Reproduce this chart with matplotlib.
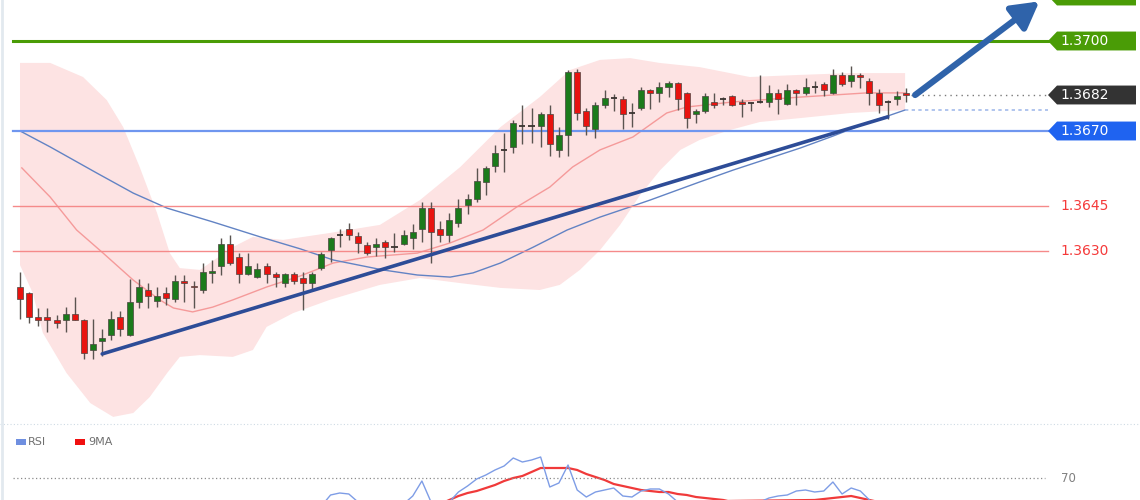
import matplotlib
matplotlib.use("Agg")
import matplotlib.pyplot as plt
import numpy as np
from matplotlib.patches import Polygon, Rectangle
from matplotlib.transforms import blended_transform_factory

# ---------------- data ----------------
opens = [1.3618, 1.3616, 1.3608, 1.3608, 1.3607, 1.3607, 1.3609, 1.3607, 1.3597, 1.3600,
         1.3602, 1.3608, 1.3602, 1.3613, 1.3617, 1.36133, 1.3616, 1.3614, 1.3620, 1.36183,
         1.3617, 1.36227, 1.3625, 1.36323, 1.3628, 1.36223, 1.36213, 1.3625, 1.36223, 1.36193,
         1.36223, 1.3621, 1.36193, 1.36243, 1.36303, 1.36353, 1.36373, 1.3635, 1.3632, 1.36313,
         1.3633, 1.36313, 1.36323, 1.36343, 1.36373, 1.36443, 1.36373, 1.36353, 1.36393, 1.36453,
         1.36473, 1.3653, 1.36583, 1.36637, 1.36647, 1.36717, 1.36717, 1.36717, 1.36757, 1.36637,
         1.36687, 1.36897, 1.36767, 1.36707, 1.36787, 1.3681, 1.36807, 1.3676, 1.36777, 1.36837,
         1.36827, 1.36847, 1.3686, 1.36827, 1.36757, 1.36767, 1.36797, 1.36807, 1.36817, 1.36797,
         1.36793, 1.36797, 1.36797, 1.36827, 1.3679, 1.36837, 1.36827, 1.36847, 1.36857, 1.36827,
         1.36887, 1.36867, 1.36887, 1.36867, 1.36827, 1.36797, 1.36807, 1.36827]
closes = [1.3614, 1.3608, 1.3607, 1.3607, 1.3606, 1.3609, 1.3607, 1.3596, 1.3599, 1.3601,
          1.36073, 1.3604, 1.3613, 1.3618, 1.3615, 1.3615, 1.36143, 1.3620, 1.36193, 1.3618,
          1.3623, 1.36233, 1.36323, 1.3626, 1.36223, 1.3625, 1.3624, 1.36223, 1.36213, 1.36223,
          1.3620, 1.36193, 1.36223, 1.3629, 1.36343, 1.36353, 1.36353, 1.36327, 1.36293, 1.36323,
          1.36313, 1.36313, 1.36353, 1.36363, 1.36443, 1.36363, 1.36353, 1.36403, 1.36443, 1.36473,
          1.36533, 1.36577, 1.36627, 1.36637, 1.36727, 1.36717, 1.36717, 1.36757, 1.36657, 1.36687,
          1.36897, 1.3676, 1.36717, 1.36787, 1.3681, 1.3681, 1.36757, 1.3676, 1.36837, 1.36827,
          1.36847, 1.3686, 1.36807, 1.36743, 1.36767, 1.36817, 1.36787, 1.36807, 1.36787, 1.3679,
          1.36793, 1.36797, 1.36827, 1.36807, 1.36837, 1.36827, 1.36847, 1.36847, 1.36837, 1.36887,
          1.36857, 1.36887, 1.3688, 1.36827, 1.36787, 1.36797, 1.36817, 1.3682]
highs = [1.3623, 1.36163, 1.3611, 1.3611, 1.36087, 1.36113, 1.36147, 1.36072, 1.36073, 1.3604,
         1.3610, 1.3610, 1.36207, 1.36207, 1.36193, 1.3618, 1.3618, 1.3622, 1.3622, 1.3620,
         1.3626, 1.3627, 1.36343, 1.36353, 1.36293, 1.36293, 1.3626, 1.3626, 1.3623, 1.36227,
         1.3623, 1.3623, 1.3623, 1.36297, 1.36347, 1.36373, 1.36393, 1.36363, 1.3633, 1.36343,
         1.36337, 1.3636, 1.3637, 1.3639, 1.36463, 1.36463, 1.3640, 1.36427, 1.36473, 1.3649,
         1.36577, 1.36583, 1.36653, 1.36693, 1.36737, 1.36787, 1.36777, 1.36763, 1.36787, 1.36713,
         1.36903, 1.36907, 1.36777, 1.36797, 1.36837, 1.36823, 1.36817, 1.36793, 1.36847, 1.3684,
         1.36863, 1.36867, 1.36863, 1.3683, 1.36773, 1.36827, 1.36827, 1.36813, 1.3682, 1.36807,
         1.36797, 1.36887, 1.36853, 1.3684, 1.36857, 1.3684, 1.36877, 1.36867, 1.36863, 1.36907,
         1.36897, 1.36917, 1.36893, 1.36877, 1.3684, 1.36803, 1.36833, 1.36843]
lows = [1.36073, 1.3606, 1.3605, 1.3603, 1.36043, 1.3603, 1.3607, 1.3594, 1.3594, 1.3595,
        1.36003, 1.36017, 1.36017, 1.3611, 1.3611, 1.36113, 1.3612, 1.3613, 1.3613, 1.3611,
        1.3616, 1.36193, 1.3622, 1.36253, 1.36193, 1.3622, 1.3621, 1.36193, 1.3618, 1.3618,
        1.3619, 1.36103, 1.36173, 1.36237, 1.36263, 1.36313, 1.36337, 1.36293, 1.36287, 1.36283,
        1.36277, 1.36297, 1.3632, 1.36307, 1.3633, 1.3626, 1.3633, 1.3633, 1.3638, 1.36423,
        1.36463, 1.36487, 1.36563, 1.36563, 1.36627, 1.36657, 1.3666, 1.36647, 1.36617, 1.36613,
        1.36617, 1.36737, 1.36687, 1.36677, 1.36777, 1.36767, 1.36707, 1.36713, 1.3677, 1.36773,
        1.36797, 1.36813, 1.3677, 1.3671, 1.36727, 1.3676, 1.36777, 1.36787, 1.36783, 1.36747,
        1.36767, 1.36793, 1.3678, 1.36757, 1.36787, 1.36787, 1.3682, 1.36827, 1.36817, 1.36823,
        1.3685, 1.36847, 1.36843, 1.36787, 1.3676, 1.3674, 1.36787, 1.36797]

# Bollinger band (upper / lower) and moving averages, sampled at candle positions
band_up_x = [0, 3.3, 6.9, 9.5, 11.3, 13.1, 15.0, 16.4, 17.5, 19.7, 23.3, 25.5, 28.8, 33.9,
             39.4, 43.8, 48.2, 52.6, 56.9, 60.2, 63.5, 66.8, 70.0, 74.4, 79.9, 85.4, 90.9, 96.9]
band_up_y = [1.36927, 1.36927, 1.3688, 1.36803, 1.36713, 1.3658, 1.36427, 1.36293, 1.36243,
             1.36237, 1.36313, 1.36347, 1.36337, 1.3636, 1.36387, 1.3647, 1.3658, 1.36713,
             1.36813, 1.36903, 1.36937, 1.36943, 1.36927, 1.36913, 1.3688, 1.36887, 1.36893, 1.36893]
band_lo_x = [0, 1.4, 2.5, 5.1, 7.7, 10.2, 12.4, 14.2, 16.1, 17.5, 19.7, 23.3, 25.5, 27.0, 29.9,
             33.9, 39.4, 43.8, 48.2, 52.6, 56.9, 59.1, 61.3, 63.5, 65.7, 67.9, 70.1, 72.3, 74.4,
             77.7, 81.0, 85.4, 90.9, 96.9]
band_lo_y = [1.36253, 1.3616, 1.36027, 1.35893, 1.35793, 1.35747, 1.3576, 1.35813, 1.35893,
             1.35947, 1.35953, 1.35947, 1.3597, 1.36047, 1.36093, 1.36137, 1.36187, 1.3621,
             1.36193, 1.36177, 1.3617, 1.36187, 1.36237, 1.36303, 1.36387, 1.36487, 1.3657,
             1.36637, 1.3667, 1.36703, 1.3673, 1.36743, 1.3676, 1.3677]
ma_red_x = [0.2, 3.3, 6.2, 9.1, 12.4, 15.3, 16.8, 18.9, 21.1, 23.3, 27.0, 30.7, 34.3, 38.0,
            43.5, 47.1, 50.7, 54.4, 58.0, 60.5, 63.5, 67.1, 70.8, 73.0, 78.1, 85.4, 92.7, 96.9]
ma_red_y = [1.36577, 1.3648, 1.3637, 1.36293, 1.36203, 1.36137, 1.3611, 1.36097, 1.36113,
            1.36137, 1.3618, 1.36217, 1.3626, 1.3628, 1.36293, 1.36327, 1.3637, 1.36447,
            1.36513, 1.3658, 1.36637, 1.3668, 1.3676, 1.3678, 1.36797, 1.36813, 1.36827, 1.36827]
ma_blue_x = [0.2, 3.3, 8.4, 12.4, 16.1, 21.1, 26.3, 30.7, 34.3, 39.7, 43.5, 47.1, 49.6, 52.6,
             56.2, 59.9, 63.5, 66.8, 69.0, 74.4, 78.1, 82.1, 85.4, 89.0, 92.7, 95.0, 96.9]
ma_blue_y = [1.36697, 1.36647, 1.3656, 1.36493, 1.36443, 1.36397, 1.36347, 1.36307, 1.3627,
             1.36237, 1.3622, 1.36213, 1.36227, 1.3626, 1.36313, 1.3637, 1.36413, 1.36447,
             1.3647, 1.3653, 1.3657, 1.3661, 1.36643, 1.36683, 1.36727, 1.3675, 1.3677]

# trend line and projection arrow
trend_x = [9, 95]
trend_y = [1.35957, 1.36747]
arrow_from = (98.0, 1.3682)
arrow_to = (111.6, 1.37132)

# price levels
levels = [1.3715, 1.3700, 1.3670, 1.3645, 1.3630]
level_labels = ["1.3715", "1.3700", "1.3670", "1.3645", "1.3630"]
last_label = "1.3682"

# RSI panel
rsi_start = 30
rsi_vals = [52, 50, 53, 56, 61.5, 62.5, 62, 58, 55, 52,
            55, 54, 57, 61, 68.5, 58, 55, 58, 63, 66,
            69.5, 71.5, 74, 76, 80, 78, 79, 80.5, 65.5, 67.5,
            76.5, 64, 60.5, 63, 64, 65, 61, 60.5, 63.5, 64.5,
            64.5, 62, 58, 56, 52, 55, 57, 56, 57, 56,
            55, 58, 60, 61, 61.5, 63.5, 64, 63, 63.5, 68,
            62, 65, 63.5, 59, 55, 54, 56, 57]
ma9_start = 46
ma9_vals = [57, 59, 61, 62.5, 63.5, 65, 66.5, 68.5, 70, 71,
            73, 75, 75, 75, 75, 74, 72, 70.5, 69, 67,
            66, 65, 64, 63.5, 63, 63, 62, 61.5, 60.5, 60,
            59.5, 59, 58, 57.5, 57, 57, 57, 57, 57.5, 58,
            58.5, 59, 59.5, 60, 60.5, 61, 60, 59, 58, 57.5,
            57, 57]
rsi_level = 70

# ---------------- drawing ----------------
W, H = 1140, 500
STEP = 9.134          # pixels per candle
X0 = 20               # pixel of first candle
fig = plt.figure(figsize=(W / 100, H / 100), dpi=100)
fig.patch.set_facecolor("white")

ax = fig.add_axes([0, 75 / H, 1, 425 / H])
ax.set_xlim(-X0 / STEP, (W - X0) / STEP)
ax.set_ylim(1.3572, 1.3700 + 41 / 3 * 0.0001)
ax.axis("off")

# Bollinger band
poly_x = list(band_up_x) + list(band_lo_x[::-1])
poly_y = list(band_up_y) + list(band_lo_y[::-1])
ax.fill(poly_x, poly_y, color="#fde3e3", lw=0, zorder=1)

# moving averages
ax.plot(ma_red_x, ma_red_y, color="#f59a9a", lw=1.0, zorder=2)
ax.plot(ma_blue_x, ma_blue_y, color="#6283c4", lw=1.0, zorder=2)

# horizontal levels
xa, xb = 13 / W, 1048 / W
level_styles = [("#4a9c06", 2.2), ("#4a9c06", 2.2), ("#6f96ef", 1.6),
                ("#f58a8a", 1.0), ("#f58a8a", 1.0)]
for lv, (col, lw) in zip(levels, level_styles):
    ax.axhline(lv, xmin=xa, xmax=xb, color=col, lw=lw, zorder=2)

# trend line
ax.plot(trend_x, trend_y, color="#2d4c97", lw=2.6, solid_capstyle="round", zorder=5)

# candles
n = len(opens)
for i in range(n):
    o, h, l, c = opens[i], highs[i], lows[i], closes[i]
    ax.vlines(i, l, h, color="#5a5450", lw=1.0, zorder=3)
    if abs(c - o) < 1e-6:
        ax.hlines(o, i - 0.33, i + 0.33, color="#3a3330", lw=1.3, zorder=4)
        continue
    col = "#1b7a1b" if c > o else "#e8130f"
    bottom = min(o, c)
    rect = Rectangle((i - 0.33, bottom), 0.66, abs(c - o), facecolor=col,
                     edgecolor="#4a4440", lw=0.5, zorder=4)
    ax.add_patch(rect)

# dotted line at last price and at the end of the blue average
x_end = (1048 - X0) / STEP
ax.plot([n - 0.5, x_end], [closes[-1], closes[-1]], color="#7a7a7a", lw=1.0,
        ls=(0, (1, 3)), zorder=2)
ax.plot([ma_blue_x[-1], x_end], [ma_blue_y[-1], ma_blue_y[-1]], color="#a3bbeb",
        lw=1.2, ls=(0, (2, 2)), zorder=2)

# projection arrow
ax.annotate("", xy=arrow_to, xytext=arrow_from, annotation_clip=False,
            arrowprops=dict(arrowstyle="-|>,head_length=0.8,head_width=0.45",
                            color="#2f63aa", lw=4.5, shrinkA=0, shrinkB=0,
                            mutation_scale=20), zorder=6)

# right-hand tags
tr = blended_transform_factory(ax.transAxes, ax.transData)


def tag(y, face, text=None):
    x0, x1, x2 = 1048 / W, 1057 / W, 1136 / W
    hh = 0.000315
    p = Polygon([(x0, y), (x1, y + hh), (x2, y + hh), (x2, y - hh), (x1, y - hh)],
                closed=True, transform=tr, facecolor=face, edgecolor="none",
                clip_on=False, zorder=6)
    ax.add_patch(p)
    if text:
        ax.text(1060 / W, y, text, transform=tr, color="white", fontsize=10,
                family="DejaVu Sans", va="center", ha="left", zorder=7, clip_on=False)


tag(levels[0], "#4a9c06")            # top tag lies beyond the frame; only its edge shows
tag(levels[1], "#4a9c06", level_labels[1])
tag(closes[-1], "#333333", last_label)
tag(levels[2], "#1f63f0", level_labels[2])
for lv, lab in zip(levels[3:], level_labels[3:]):
    ax.text(1060 / W, lv, lab, transform=tr, color="#f53a3a", fontsize=10,
            family="DejaVu Sans", va="center", ha="left", zorder=7)

# ---------------- RSI panel ----------------
rax = fig.add_axes([0, 0, 1, 75 / H])
rax.set_xlim(-X0 / STEP, (W - X0) / STEP)
rax.set_ylim(59, 96.5)
rax.axis("off")
rax.plot(range(rsi_start, rsi_start + len(rsi_vals)), rsi_vals, color="#7e9de6",
         lw=1.0, zorder=3)
rax.plot(range(ma9_start, ma9_start + len(ma9_vals)), ma9_vals, color="#f03a3a",
         lw=1.6, zorder=2)
rax.axhline(rsi_level, xmin=13 / W, xmax=1045 / W, color="#8a8a8a", lw=0.9,
            ls=(0, (1, 2)))
rtr = blended_transform_factory(rax.transAxes, rax.transData)
rax.text(1061 / W, rsi_level, str(rsi_level), transform=rtr, color="#808080",
         fontsize=8.5, va="center", ha="left")

# legend
ly = (H - 442) / 75
rax.add_patch(Rectangle((16 / W, ly - 0.035), 10 / W, 0.07, transform=rax.transAxes,
                        facecolor="#6f8fe0", edgecolor="none", clip_on=False))
rax.text(28 / W, ly, "RSI", transform=rax.transAxes, color="#707070", fontsize=8,
         va="center", ha="left")
rax.add_patch(Rectangle((75 / W, ly - 0.035), 10 / W, 0.07, transform=rax.transAxes,
                        facecolor="#f01010", edgecolor="none", clip_on=False))
rax.text(88 / W, ly, "9MA", transform=rax.transAxes, color="#707070", fontsize=8,
         va="center", ha="left")

# panel separator and left frame
fig.add_artist(plt.Line2D([0, 1], [1 - 424 / H, 1 - 424 / H], transform=fig.transFigure,
                          color="#cfdbe4", lw=0.8, ls=(0, (1, 2))))
fig.add_artist(plt.Line2D([1.5 / W, 1.5 / W], [0, 1], transform=fig.transFigure,
                          color="#e2e9ef", lw=2))

fig.savefig("out.png", dpi=100, facecolor="white")
